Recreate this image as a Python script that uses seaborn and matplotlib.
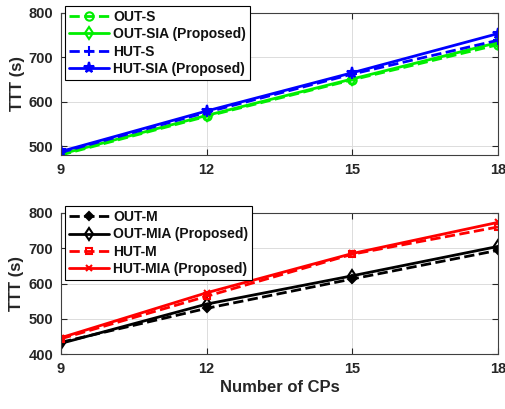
import matplotlib
matplotlib.use("Agg")
import matplotlib.pyplot as plt
import seaborn as sns
import pandas as pd

cps = [9, 12, 15, 18]
out_s = [480, 567, 649, 728]
out_sia = [482, 569, 651, 733]
hut_s = [486, 576, 662, 738]
hut_sia = [488, 579, 665, 753]

out_m = [434, 530, 613, 694]
out_mia = [431, 542, 622, 705]
hut_m = [444, 564, 683, 760]
hut_mia = [447, 574, 685, 773]

sns.set_theme(style="ticks")
plt.rcParams['font.family'] = ['Liberation Sans', 'DejaVu Sans']
plt.rcParams['font.weight'] = 'bold'
plt.rcParams['axes.labelweight'] = 'bold'

fig = plt.figure(figsize=(5.06, 4.09), dpi=100)
ax1 = fig.add_axes([0.1206, 0.621, 0.8636, 0.348])
ax2 = fig.add_axes([0.1206, 0.1337, 0.8636, 0.346])

GREEN = '#00ee00'
BLUE = '#0000ff'
RED = '#ff0000'
BLACK = '#000000'

def draw(ax, y, label, color, ls, marker, ms, filled=False):
    sns.lineplot(x=cps, y=y, ax=ax, color=color, linestyle=ls, marker=marker,
                 markersize=ms, markerfacecolor=(color if filled else 'none'),
                 markeredgecolor=color, markeredgewidth=1.5, linewidth=2,
                 label=label)

draw(ax1, out_s, 'OUT-S', GREEN, '--', 'o', 6)
draw(ax1, out_sia, 'OUT-SIA (Proposed)', GREEN, '-', 'd', 6)
draw(ax1, hut_s, 'HUT-S', BLUE, '--', '+', 7)
draw(ax1, hut_sia, 'HUT-SIA (Proposed)', BLUE, '-', '*', 8, filled=True)

draw(ax2, out_m, 'OUT-M', BLACK, '--', 'D', 4, filled=True)
draw(ax2, out_mia, 'OUT-MIA (Proposed)', BLACK, '-', 'd', 6)
draw(ax2, hut_m, 'HUT-M', RED, '--', 's', 5)
draw(ax2, hut_mia, 'HUT-MIA (Proposed)', RED, '-', 'x', 4)

for ax, ylim, yt in [(ax1, (480, 800), [500, 600, 700, 800]),
                     (ax2, (400, 800), [400, 500, 600, 700, 800])]:
    ax.set_xlim(9, 18)
    ax.set_ylim(*ylim)
    ax.set_xticks(cps)
    ax.set_yticks(yt)
    ax.grid(True, color='#dcdcdc', linewidth=0.7)
    ax.tick_params(direction='in', length=4, width=0.8, top=True, right=True,
                   labelsize=10.5, colors='#262626', labelcolor='#262626', pad=5.5)
    for t in ax.get_xticklabels() + ax.get_yticklabels():
        t.set_fontweight('bold')
    for s in ax.spines.values():
        s.set_color('#404040')
        s.set_linewidth(0.8)
    ax.set_ylabel('TTT (s)', fontsize=12, fontweight='bold', color='#262626', labelpad=3)
    leg = ax.legend(loc='upper left', bbox_to_anchor=(0.008, 1.05), fontsize=10,
                    frameon=True, fancybox=False, edgecolor='black', framealpha=1,
                    handlelength=2.9, labelspacing=0.25, borderpad=0.3,
                    handletextpad=0.3, borderaxespad=0)
    leg.get_frame().set_linewidth(0.8)
    for t in leg.get_texts():
        t.set_fontweight('bold')
        t.set_color('#111111')

ax1.set_xlabel('')
ax2.set_xlabel('Number of CPs', fontsize=12, fontweight='bold', color='#262626', labelpad=3)

fig.savefig('out.png', dpi=100)
